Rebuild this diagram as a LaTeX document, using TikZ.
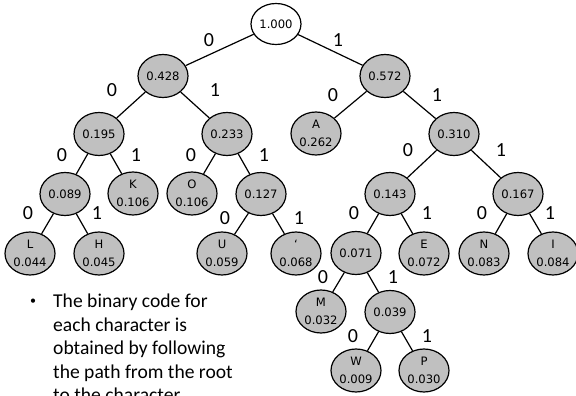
\documentclass[tikz,border=0pt]{standalone}
\usepackage{fontspec}
\setmainfont{Carlito}
\newfontfamily\nodefont{DejaVu Sans}
\usetikzlibrary{shapes.geometric}
\definecolor{nodefill}{RGB}{192,192,192}
\tikzset{
  x=1pt, y=1pt,
  tnode/.style={ellipse, draw=black, line width=1.2pt, fill=nodefill,
    minimum width=50pt, minimum height=43pt, inner sep=0pt,
    font=\nodefont\fontsize{11.6}{18}\selectfont, align=center},
  rootnode/.style={tnode, fill=white, minimum height=41pt},
  leaf/.style={tnode, yshift=0.5pt},
  edge/.style={draw=black, line width=1.2pt},
  bit/.style={font=\fontsize{20}{20}\selectfont, inner sep=0pt},
  body/.style={font=\fontsize{19.6}{23.5}\selectfont, inner sep=0pt, anchor=base west}
}
\begin{document}
\begin{tikzpicture}
\clip (0,0) rectangle (576,-396);
\useasboundingbox (0,0) rectangle (576,-396);

% tree nodes
\node[rootnode] (root) at (276,-24) {1.000};
\node[tnode] (n428) at (163,-76) {0.428};
\node[tnode] (n572) at (385,-76) {0.572};
\node[tnode] (n195) at (99,-134) {0.195};
\node[tnode] (n233) at (227,-134) {0.233};
\node[leaf]  (A)    at (316,-134) {A\\0.262};
\node[tnode] (n310) at (454,-134) {0.310};
\node[tnode] (n089) at (65,-194) {0.089};
\node[leaf]  (K)    at (133,-194) {K\\0.106};
\node[leaf]  (O)    at (192,-194) {O\\0.106};
\node[tnode] (n127) at (261,-194) {0.127};
\node[tnode] (n143) at (390,-194) {0.143};
\node[tnode] (n167) at (518,-194) {0.167};
\node[leaf]  (L)    at (30,-254) {L\\0.044};
\node[leaf]  (H)    at (99,-254) {H\\0.045};
\node[leaf]  (U)    at (222,-254) {U\\0.059};
\node[leaf]  (Q)    at (296,-254) {‘\\0.068};
\node[tnode] (n071) at (356,-253) {0.071};
\node[leaf]  (E)    at (424,-254) {E\\0.072};
\node[leaf]  (N)    at (484,-254) {N\\0.083};
\node[leaf]  (I)    at (553,-254) {I\\0.084};
\node[leaf]  (M)    at (321,-312) {M\\0.032};
\node[tnode] (n039) at (390,-312) {0.039};
\node[leaf]  (W)    at (356,-371) {W\\0.009};
\node[leaf]  (P)    at (424,-371) {P\\0.030};

% branches
\draw[edge] (root) -- (n428);
\draw[edge] (root) -- (n572);
\draw[edge] (n428) -- (n195);
\draw[edge] (n428) -- (n233);
\draw[edge] (n572) -- (A);
\draw[edge] (n572) -- (n310);
\draw[edge] (n195) -- (n089);
\draw[edge] (n195) -- (K);
\draw[edge] (n233) -- (O);
\draw[edge] (n233) -- (n127);
\draw[edge] (n310) -- (n143);
\draw[edge] (n310) -- (n167);
\draw[edge] (n089) -- (L);
\draw[edge] (n089) -- (H);
\draw[edge] (n127) -- (U);
\draw[edge] (n127) -- (Q);
\draw[edge] (n143) -- (n071);
\draw[edge] (n143) -- (E);
\draw[edge] (n167) -- (N);
\draw[edge] (n167) -- (I);
\draw[edge] (n071) -- (M);
\draw[edge] (n071) -- (n039);
\draw[edge] (n039) -- (W);
\draw[edge] (n039) -- (P);

% branch bits
\node[bit] (b1)  at (209,-40) {0};
\node[bit] (b2)  at (338,-40) {1};
\node[bit] (b3)  at (112,-90) {0};
\node[bit] (b4)  at (215,-90) {1};
\node[bit] (b5)  at (333,-95) {0};
\node[bit] (b6)  at (437,-95) {1};
\node[bit] (b7)  at (62,-155) {0};
\node[bit] (b8)  at (136,-155) {1};
\node[bit] (b9)  at (191,-155) {0};
\node[bit] (b10) at (264,-155) {1};
\node[bit] (b11) at (408,-150) {0};
\node[bit] (b12) at (501,-150) {1};
\node[bit] (b13) at (28,-213) {0};
\node[bit] (b14) at (97,-213) {1};
\node[bit] (b15) at (225,-218) {0};
\node[bit] (b16) at (299,-218) {1};
\node[bit] (b17) at (354,-213) {0};
\node[bit] (b18) at (427,-213) {1};
\node[bit] (b19) at (482,-213) {0};
\node[bit] (b20) at (550,-213) {1};
\node[bit] (b21) at (323,-277) {0};
\node[bit] (b22) at (393,-277) {1};
\node[bit] (b23) at (353,-336) {0};
\node[bit] (b24) at (427,-336) {1};

% note
\node[font=\fontsize{12}{12}\selectfont, inner sep=0pt] (dot) at (33,-302) {•};
\node[body] (t1) at (53,-307.5) {The binary code for};
\node[body] (t2) at (53,-331) {each character is};
\node[body] (t3) at (53,-354.5) {obtained by following};
\node[body] (t4) at (53,-378) {the path from the root};
\node[body] (t5) at (53,-401.5) {to the character};
\end{tikzpicture}
\end{document}
